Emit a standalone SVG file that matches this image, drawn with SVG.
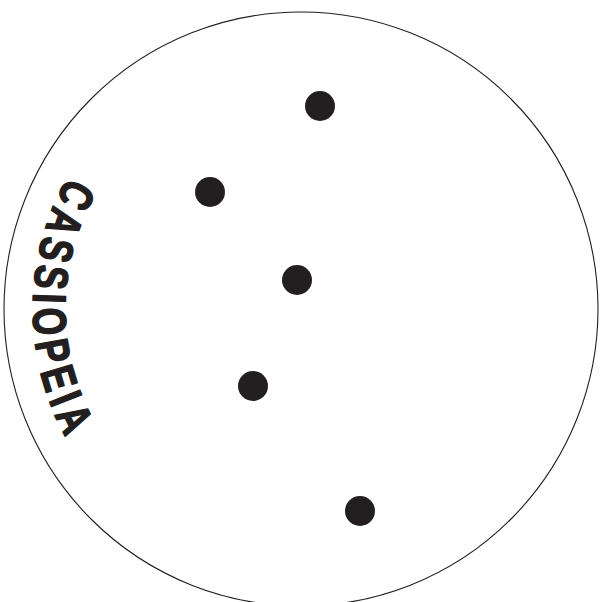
<svg xmlns="http://www.w3.org/2000/svg" width="606" height="602" viewBox="0 0 606 602">
<style>
.ring{fill:none;stroke:#231f20;stroke-width:1.1}
.star{fill:#231f20}
.lbl{font-family:"Liberation Sans","Arial",sans-serif;font-weight:bold;font-size:47px;letter-spacing:8px;fill:#231f20;stroke:#231f20;stroke-width:1.6;stroke-linejoin:round}
</style>
<defs>
<path id="arc" d="M301,41 A268,268 0 0 0 301,577"/>
</defs>
<rect width="606" height="602" fill="#ffffff"/>
<g id="boundary"><circle class="ring" cx="301" cy="309" r="297"/></g>
<g id="stars">
<circle id="star1" class="star" cx="320" cy="106" r="15"/>
<circle id="star2" class="star" cx="210" cy="192" r="15"/>
<circle id="star3" class="star" cx="297" cy="280" r="15"/>
<circle id="star4" class="star" cx="253" cy="386" r="15"/>
<circle id="star5" class="star" cx="360" cy="511" r="15"/>
</g>
<g id="label"><text class="lbl" text-anchor="middle" textLength="278" lengthAdjust="spacingAndGlyphs"><textPath href="#arc" startOffset="50.1%">CASSIOPEIA</textPath></text></g>
</svg>
